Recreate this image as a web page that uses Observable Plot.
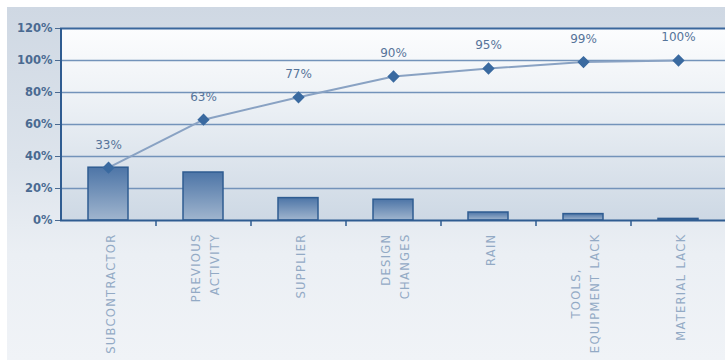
<!DOCTYPE html>
<html><head><meta charset="utf-8">
<script src="https://cdn.jsdelivr.net/npm/d3@7"></script>
<script src="https://cdn.jsdelivr.net/npm/@observablehq/plot@0.6"></script>
<style>
html,body{margin:0;padding:0;background:#fff;}
#wrap{position:relative;width:725px;height:360px;overflow:hidden;}
#panel{position:absolute;left:7px;top:7px;right:0;bottom:0;background:linear-gradient(#cfd8e3 0%,#dde4ec 45%,#ebeff4 70%,#f0f3f7 100%);}
#chart{position:absolute;left:0;top:0;}
</style></head><body>
<div id="wrap"><div id="panel"></div><div id="chart"></div></div>
<script>
const categories = ["Subcontractor","Previous activity","Supplier","Design changes","Rain","Tools, equipment lack","Material lack"];
const categoryLabels = ["SUBCONTRACTOR","PREVIOUS\nACTIVITY","SUPPLIER","DESIGN\nCHANGES","RAIN","TOOLS,\u00a0\u00a0\u00a0\u00a0\u00a0\u00a0\u00a0\nEQUIPMENT LACK","MATERIAL LACK"];
const shares = [0.33, 0.30, 0.14, 0.13, 0.05, 0.04, 0.01];
const cumulative = [0.33, 0.63, 0.77, 0.90, 0.95, 0.99, 1.00];
const cumulativeLabels = ["33%","63%","77%","90%","95%","99%","100%"];
const yTicks = [0, 0.2, 0.4, 0.6, 0.8, 1.0, 1.2];

const W = 725, H = 360, ML = 60, MR = 0, MT = 28, MB = 140;
const step = (W - ML - MR) / categories.length;
const data = categories.map((c, i) => ({cat: c, label: categoryLabels[i], share: shares[i], cum: cumulative[i], cumLabel: cumulativeLabels[i]}));
const dark = "#2f5c91";

const plot = Plot.plot({
  width: W, height: H, marginLeft: ML, marginRight: MR, marginTop: MT, marginBottom: MB,
  style: {background: "transparent", overflow: "visible", fontFamily: "DejaVu Sans"},
  x: {domain: categories, paddingInner: 0.58, paddingOuter: 0.29, axis: null},
  y: {domain: [0, 1.2], axis: null},
  marks: [
    Plot.frame({fill: "url(#plotGrad)", stroke: null}),
    Plot.ruleY(yTicks.slice(1, -1), {stroke: "#7393ba", strokeWidth: 1.5}),
    Plot.ruleY([1.2], {stroke: "#3a679c", strokeWidth: 2}),
    Plot.barY(data, {x: "cat", y: "share", fill: "url(#barGrad)", stroke: dark, strokeWidth: 1.5}),
    Plot.ruleY([0], {stroke: dark, strokeWidth: 2}),
    Plot.ruleX(categories.slice(1), {x: d => d, y1: 0, y2: 0, dx: -step / 2, insetBottom: -6, stroke: dark, strokeWidth: 1.5}),
    Plot.ruleX(categories.slice(0, 1), {x: d => d, y1: 0, y2: 1.2, dx: -step / 2, stroke: dark, strokeWidth: 2}),
    Plot.axisY({ticks: yTicks, tickFormat: d => Math.round(d * 100) + "%", tickSize: 5, tickPadding: 3, color: "#4a6a91", fontWeight: "bold", fontSize: 11.5}),
    Plot.line(data, {x: "cat", y: "cum", stroke: "#89a2c3", strokeWidth: 2}),
    Plot.dot(data, {x: "cat", y: "cum", symbol: "diamond2", r: 4.6, fill: "#3a6aa0", stroke: "#3a6aa0"}),
    Plot.text(data, {x: "cat", y: "cum", text: "cumLabel", dy: -23, fill: "#56749a", fontSize: 12}),
    Plot.text(data, {x: "cat", y: 0, text: "label", rotate: -90, textAnchor: "end", dy: 13, lineHeight: 1.65, fill: "#93aac5", fontSize: 11.5})
  ]
});

const defs = document.createElementNS("http://www.w3.org/2000/svg", "defs");
defs.innerHTML = `
<linearGradient id="plotGrad" x1="0" y1="0" x2="0" y2="1">
  <stop offset="0" stop-color="#fcfdfe"/>
  <stop offset="0.35" stop-color="#eef2f6"/>
  <stop offset="1" stop-color="#cdd8e4"/>
</linearGradient>
<linearGradient id="barGrad" x1="0" y1="0" x2="0" y2="1">
  <stop offset="0" stop-color="#4d75a7"/>
  <stop offset="1" stop-color="#a0b5ce"/>
</linearGradient>`;
plot.insertBefore(defs, plot.firstChild);
const texts = plot.querySelectorAll("g[aria-label='text']");
if (texts.length) texts[texts.length - 1].setAttribute("letter-spacing", "1.3px");
document.getElementById("chart").appendChild(plot);
</script>
</body></html>
